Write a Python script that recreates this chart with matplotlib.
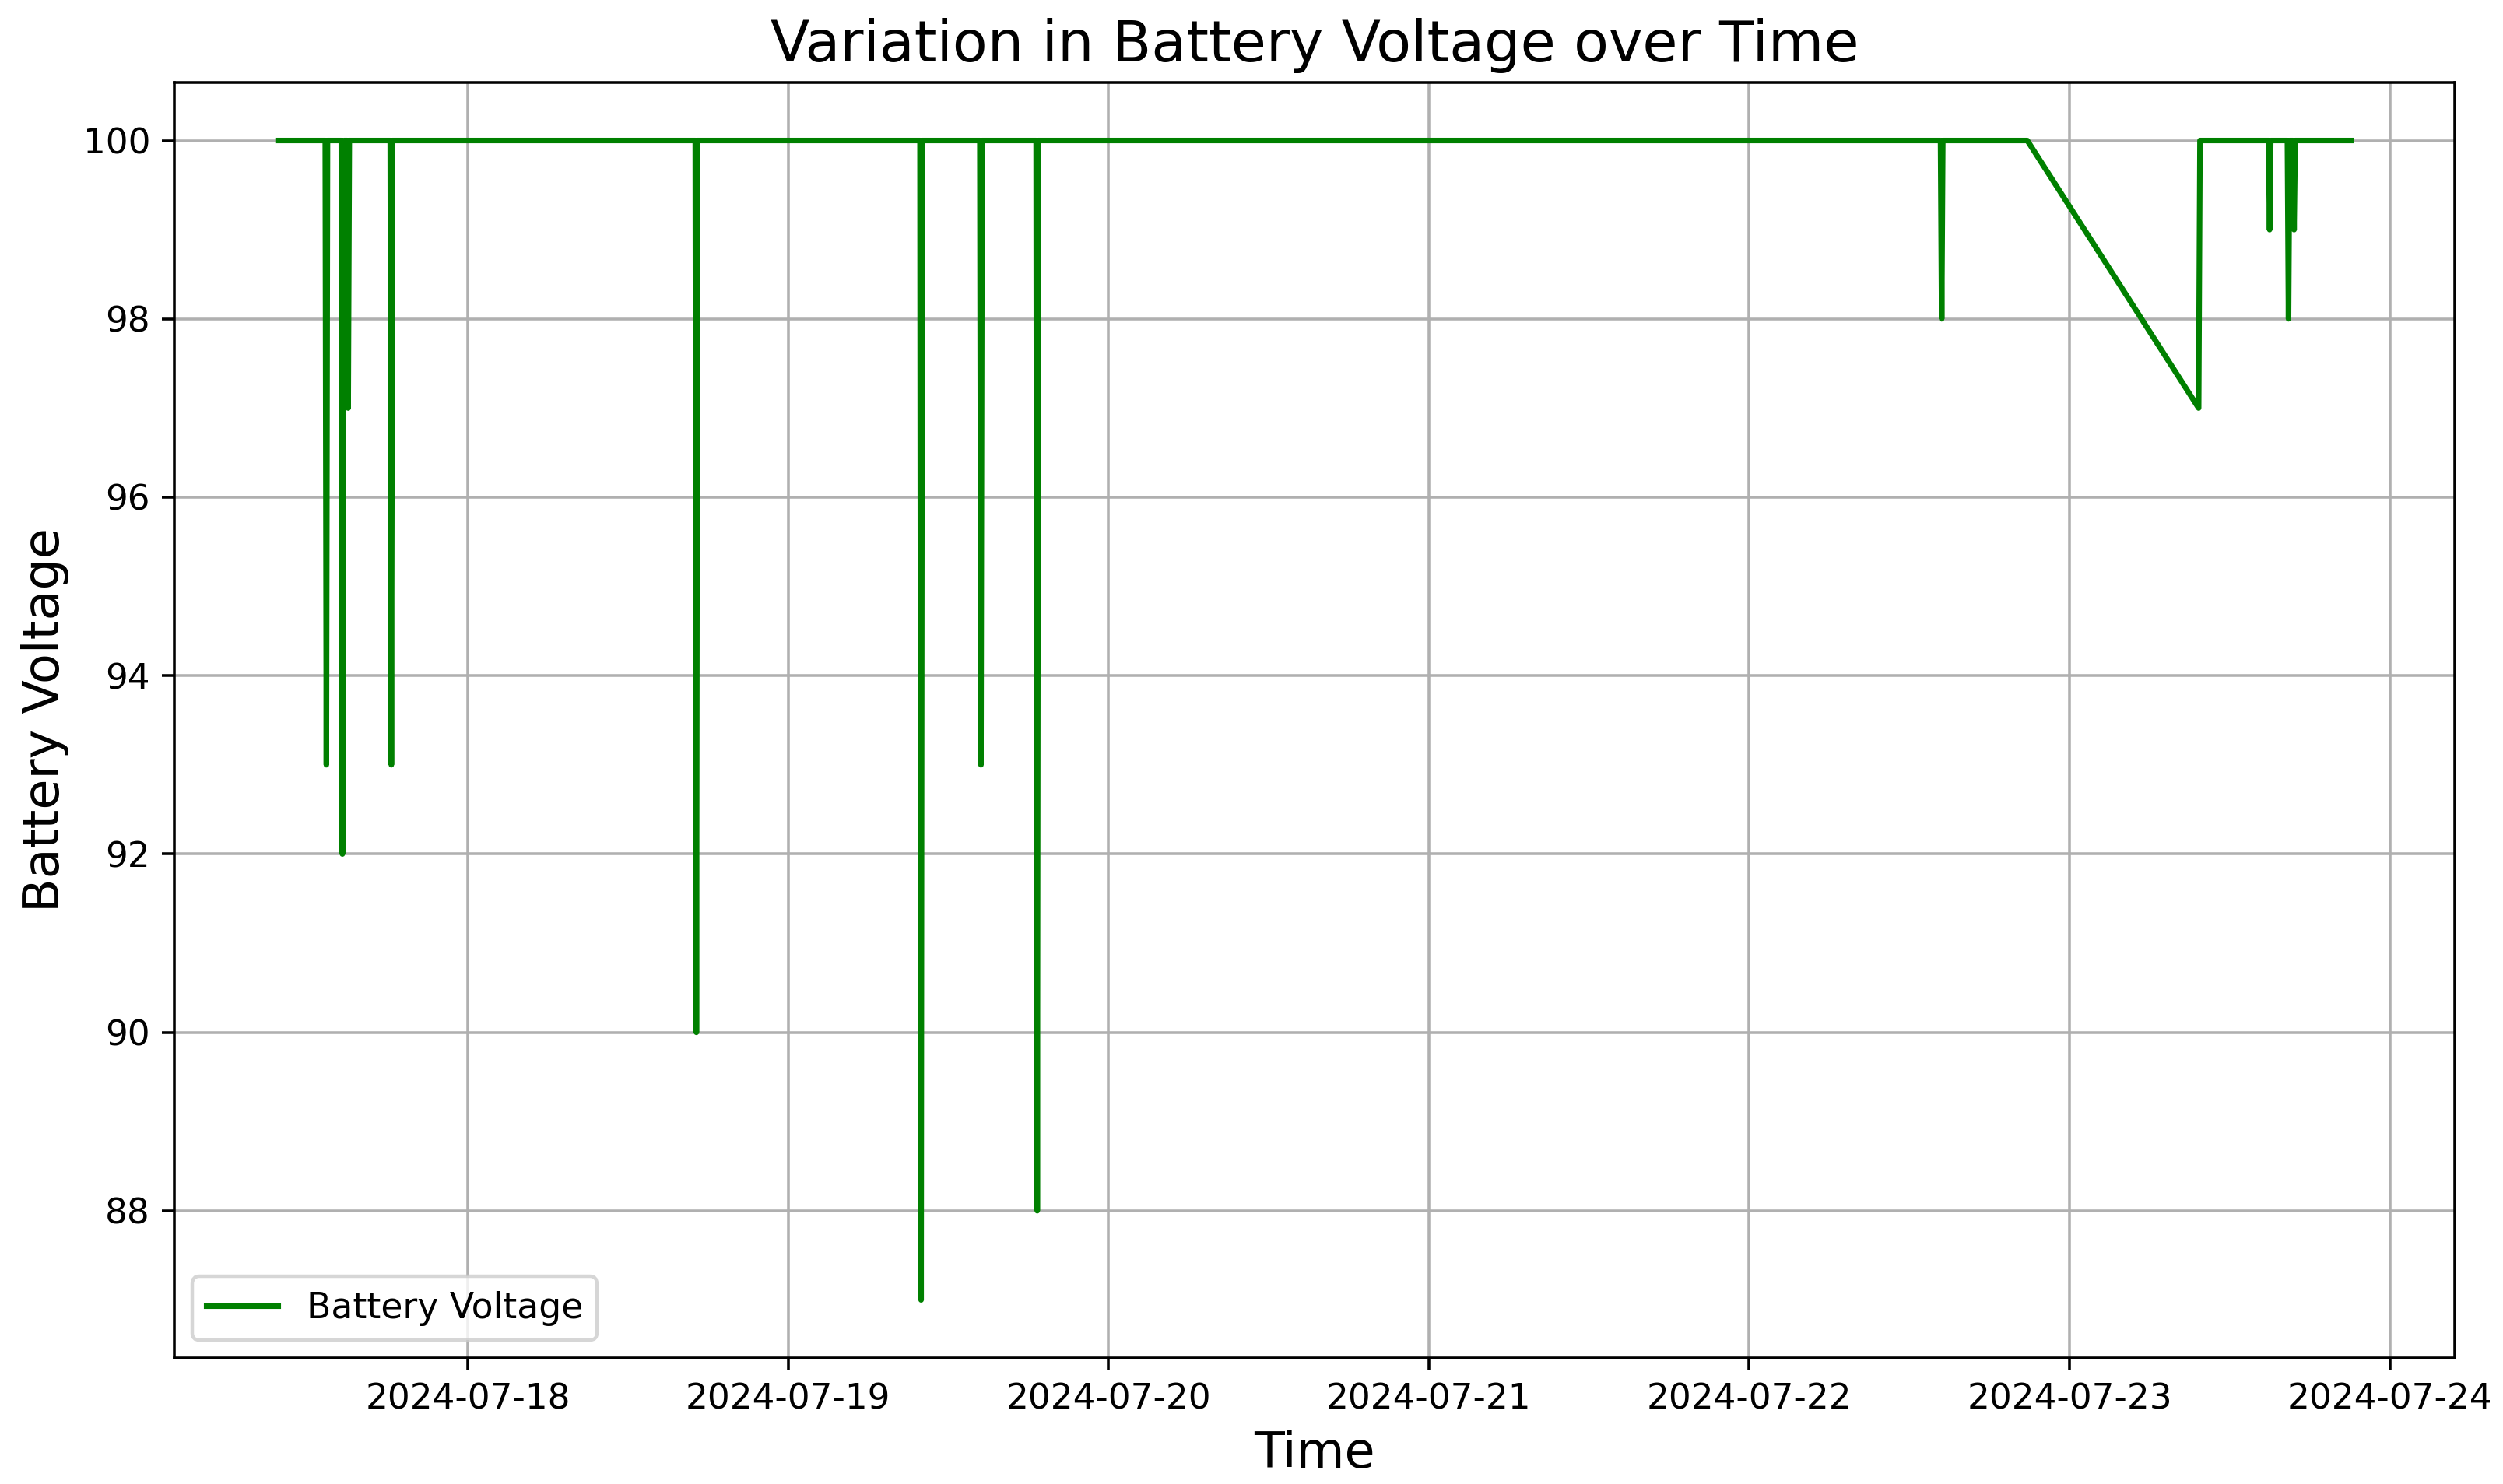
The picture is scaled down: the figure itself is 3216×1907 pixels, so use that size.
import pandas as pd
import matplotlib
matplotlib.use("Agg")
import matplotlib.pyplot as plt

# readings (timestamp, battery voltage)
times = [
    "2024-07-17 09:48", "2024-07-17 13:20", "2024-07-17 13:25", "2024-07-17 13:30",
    "2024-07-17 14:32", "2024-07-17 14:37", "2024-07-17 14:44",
    "2024-07-17 14:58", "2024-07-17 15:03", "2024-07-17 15:08",
    "2024-07-17 18:12", "2024-07-17 18:17", "2024-07-17 18:22",
    "2024-07-18 17:03", "2024-07-18 17:08", "2024-07-18 17:13",
    "2024-07-19 09:53", "2024-07-19 09:58", "2024-07-19 10:03",
    "2024-07-19 14:22", "2024-07-19 14:27", "2024-07-19 14:32",
    "2024-07-19 18:35", "2024-07-19 18:40", "2024-07-19 18:45",
    "2024-07-22 14:20", "2024-07-22 14:25", "2024-07-22 14:30",
    "2024-07-22 20:50", "2024-07-23 09:40", "2024-07-23 09:46",
    "2024-07-23 14:54", "2024-07-23 14:59", "2024-07-23 15:04",
    "2024-07-23 16:19", "2024-07-23 16:24", "2024-07-23 16:29",
    "2024-07-23 16:44", "2024-07-23 16:49", "2024-07-23 16:54",
    "2024-07-23 21:05",
]
voltage = [
    100, 100, 93, 100,
    100, 92, 100,
    100, 97, 100,
    100, 93, 100,
    100, 90, 100,
    100, 87, 100,
    100, 93, 100,
    100, 88, 100,
    100, 98, 100,
    100, 97, 100,
    100, 99, 100,
    100, 98, 100,
    100, 99, 100,
    100,
]

df = pd.DataFrame({"time": pd.to_datetime(times), "voltage": voltage})

plt.rcParams["xtick.labelsize"] = 10.2
plt.rcParams["ytick.labelsize"] = 10.2
plt.rcParams["legend.fontsize"] = 10.3

fig, ax = plt.subplots(figsize=(3216 / 320, 1907 / 320), dpi=320)
fig.subplots_adjust(left=0.0697, right=0.9807, top=0.9444, bottom=0.085)

ax.plot(df["time"], df["voltage"], color="green", linewidth=1.6,
        label="Battery Voltage")
ax.set_title("Variation in Battery Voltage over Time", fontsize=16.5)
ax.set_xlabel("Time", fontsize=14.3)
ax.set_ylabel("Battery Voltage", fontsize=14.3)
ax.grid(True)
ax.legend(loc="lower left")

fig.savefig("out.png", dpi=320)
